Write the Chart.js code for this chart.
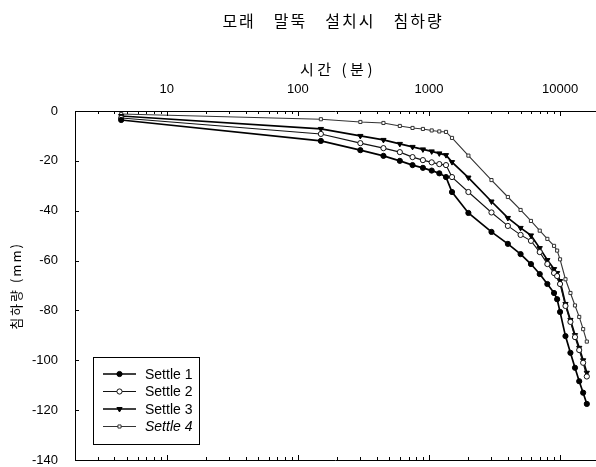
<!DOCTYPE html>
<html><head><meta charset="utf-8">
<script src="https://cdn.jsdelivr.net/npm/chart.js"></script>
<style>html,body{margin:0;padding:0;background:#fff}#wrap{width:596px;height:467px;position:relative}</style>
</head><body><div id="wrap"><canvas id="c" width="596" height="467"></canvas></div>
<script>
const chartTitle = "모래　말뚝　설치시　침하량";
const xTitle = "시간 (분)";
const yTitle = "침하량 (mm)";
const seriesNames = ["Settle 1", "Settle 2", "Settle 3", "Settle 4"];
const xTickValues = [10, 100, 1000, 10000];
const yTickStep = 20;
const times   = [4.5, 150, 300, 450, 600, 750, 900, 1050, 1200, 1350, 1500, 2000, 3000, 4000, 5000, 6000, 7000, 8000, 9000, 9500, 10000, 11000, 12000, 13000, 14000, 15000, 16000];
const settle1 = [-3.6, -12, -15.7, -18, -20, -21.7, -22.8, -23.9, -25, -26.5, -32.5, -40.9, -48.5, -53.3, -57.4, -61.4, -65.4, -69.4, -73, -75.5, -80.6, -90.3, -97, -103, -108.4, -113, -117.5];
const settle2 = [-2.8, -9.2, -12.9, -14.9, -16.5, -18.5, -19.7, -20.6, -21.3, -21.7, -26.5, -32.5, -40.7, -46.1, -49.7, -52.1, -56.6, -61.4, -65, -66.2, -69.4, -78.2, -84.6, -90.7, -95.9, -101, -106.5];
const settle3 = [-2, -7.2, -10, -11.6, -13.2, -14.4, -15.4, -16.2, -17, -17.7, -20.5, -26.7, -36.3, -42.9, -46.9, -49.9, -55, -59.8, -63.4, -65, -68.2, -77.4, -83.8, -89.9, -95, -100, -105];
const settle4 = [-1.2, -3.3, -4.4, -4.8, -6, -6.8, -7.2, -7.8, -8.2, -8.4, -10.8, -17.9, -27.7, -34.5, -39.7, -44.1, -48, -51.3, -54.1, -56, -59.5, -67.5, -73, -78, -82.6, -87.5, -92.5];

const seriesValues = [settle1, settle2, settle3, settle4];
const styles = [
  {borderColor:'#000', backgroundColor:'#000', borderWidth:1.7, pointStyle:'circle', pointRadius:2.6, pointRotation:0, pointBorderWidth:1},
  {borderColor:'#111', backgroundColor:'#fff', borderWidth:1.1, pointStyle:'circle', pointRadius:2.6, pointRotation:0, pointBorderWidth:1},
  {borderColor:'#000', backgroundColor:'#000', borderWidth:1.7, pointStyle:'triangle', pointRadius:3, pointRotation:180, pointBorderWidth:1},
  {borderColor:'#333', backgroundColor:'#fff', borderWidth:1.1, pointStyle:'rect', pointRadius:2.2, pointRotation:0, pointBorderWidth:1}
];

const datasets = seriesNames.map((name, i) => ({
  label: name,
  data: times.map((t, j) => ({x: t, y: seriesValues[i][j]})),
  borderColor: styles[i].borderColor,
  backgroundColor: styles[i].backgroundColor,
  pointBackgroundColor: styles[i].backgroundColor,
  pointBorderColor: styles[i].borderColor,
  borderWidth: styles[i].borderWidth,
  pointStyle: styles[i].pointStyle,
  pointRadius: styles[i].pointRadius,
  pointRotation: styles[i].pointRotation,
  pointBorderWidth: styles[i].pointBorderWidth,
  tension: 0,
  fill: false
}));

const decor = {
  id: 'decor',
  afterDraw(chart) {
    const ctx = chart.ctx;
    const ca = chart.chartArea;
    const xs = chart.scales.x, ys = chart.scales.y;
    ctx.save();
    ctx.strokeStyle = '#000';
    ctx.lineWidth = 1;
    ctx.beginPath();
    ctx.moveTo(ca.left + 0.5, ca.top); ctx.lineTo(ca.left + 0.5, ca.bottom + 1);
    ctx.moveTo(ca.left, ca.top + 0.5); ctx.lineTo(ca.right, ca.top + 0.5);
    ctx.moveTo(ca.left, ca.bottom + 0.5); ctx.lineTo(ca.right, ca.bottom + 0.5);
    ctx.stroke();
    ctx.beginPath();
    for (let d = 1; d <= 10000; d *= 10) {
      for (let m = 1; m <= 9; m++) {
        const v = d * m;
        if (v < xs.min || v > xs.max) continue;
        const px = Math.round(xs.getPixelForValue(v)) + 0.5;
        const len = (m === 1) ? 5 : 3;
        ctx.moveTo(px, ca.top); ctx.lineTo(px, ca.top + len);
        ctx.moveTo(px, ca.bottom); ctx.lineTo(px, ca.bottom - len);
      }
    }
    for (let v = ys.min; v <= ys.max; v += yTickStep) {
      const py = Math.round(ys.getPixelForValue(v)) + 0.5;
      ctx.moveTo(ca.left, py); ctx.lineTo(ca.left + 4, py);
    }
    ctx.stroke();

    ctx.fillStyle = '#000';
    ctx.textAlign = 'center';
    ctx.textBaseline = 'middle';
    ctx.font = '16px "Noto Sans CJK KR"';
    ctx.letterSpacing = '2px';
    ctx.fillText(chartTitle, 333, 21);
    ctx.font = '15px "Noto Sans CJK KR"';
    ctx.letterSpacing = '3.5px';
    ctx.fillText(xTitle, 338, 69);
    ctx.save();
    ctx.translate(16, 286);
    ctx.rotate(-Math.PI / 2);
    ctx.font = '13px "Noto Sans CJK KR"';
    ctx.letterSpacing = '2px';
    ctx.fillText(yTitle, 0, 0);
    ctx.restore();
    ctx.letterSpacing = '0px';

    const bx = 93, by = 357, bw = 106, bh = 87;
    ctx.fillStyle = '#fff';
    ctx.fillRect(bx, by, bw, bh);
    ctx.strokeStyle = '#000';
    ctx.lineWidth = 1;
    ctx.strokeRect(bx + 0.5, by + 0.5, bw, bh);
    ctx.textAlign = 'left';
    ctx.textBaseline = 'middle';
    chart.data.datasets.forEach((ds, i) => {
      const ry = 374 + i * 17.5;
      ctx.strokeStyle = ds.borderColor;
      ctx.lineWidth = ds.borderWidth;
      ctx.beginPath();
      ctx.moveTo(103, ry); ctx.lineTo(136, ry);
      ctx.stroke();
      ctx.fillStyle = ds.pointBackgroundColor;
      ctx.strokeStyle = ds.pointBorderColor;
      ctx.lineWidth = ds.pointBorderWidth;
      Chart.helpers.drawPoint(ctx, {pointStyle: ds.pointStyle, radius: ds.pointRadius, rotation: ds.pointRotation, borderWidth: ds.pointBorderWidth}, 119.5, ry);
      ctx.fillStyle = '#000';
      ctx.font = (i === 3 ? 'italic ' : '') + '14px "Liberation Sans", Arial, sans-serif';
      ctx.fillText(ds.label, 145, ry + 1);
    });
    ctx.restore();
  }
};

new Chart(document.getElementById('c'), {
  type: 'line',
  data: {datasets},
  options: {
    responsive: false,
    maintainAspectRatio: false,
    animation: false,
    devicePixelRatio: 1,
    layout: {autoPadding: false, padding: {top: 80, right: 0, bottom: 7, left: 0}},
    plugins: {legend: {display: false}, title: {display: false}, tooltip: {enabled: false}},
    scales: {
      x: {
        type: 'logarithmic', position: 'top', min: 2, max: 18800,
        grid: {display: false}, border: {display: false},
        afterBuildTicks: s => { s.ticks = xTickValues.map(v => ({value: v, major: true})); },
        afterFit: s => { s.height = 31; s.paddingLeft = 0; s.paddingRight = 0; s.paddingTop = 0; s.paddingBottom = 0; },
        ticks: {color: '#000', font: {family: '"Liberation Sans", Arial, sans-serif', size: 13}, padding: 6, maxRotation: 0, autoSkip: false, callback: v => String(v)}
      },
      y: {
        type: 'linear', min: -140, max: 0,
        grid: {display: false}, border: {display: false},
        afterFit: s => { s.width = 75; s.paddingLeft = 0; s.paddingRight = 0; s.paddingTop = 0; s.paddingBottom = 0; },
        ticks: {stepSize: yTickStep, color: '#000', font: {family: '"Liberation Sans", Arial, sans-serif', size: 13}, padding: 9}
      }
    }
  },
  plugins: [decor]
});
</script>
</body></html>
